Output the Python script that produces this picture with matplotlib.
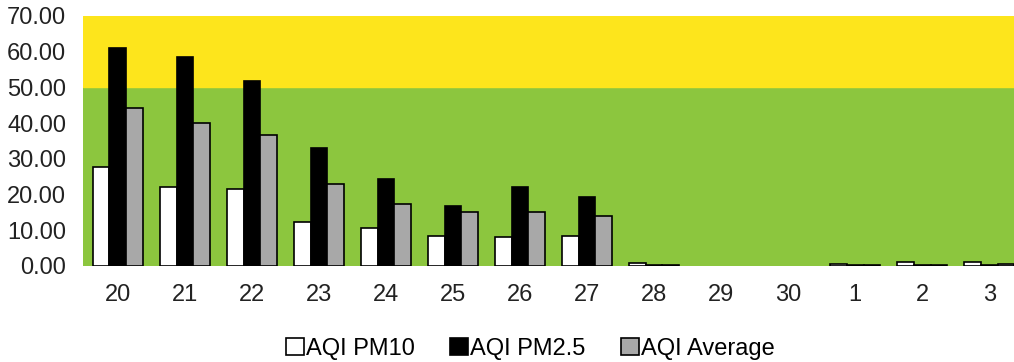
import matplotlib
matplotlib.use("Agg")
import matplotlib.pyplot as plt
import numpy as np

plt.rcParams['font.family'] = ['Liberation Sans', 'DejaVu Sans']

days = ['20', '21', '22', '23', '24', '25', '26', '27', '28', '29', '30', '1', '2', '3']
pm10 = [27.7, 22.1, 21.6, 12.3, 10.6, 8.4, 8.1, 8.4, 0.8, 0, 0, 0.7, 1.0, 1.0]
pm25 = [61.0, 58.5, 51.8, 33.0, 24.4, 16.8, 22.1, 19.3, 0.3, 0, 0, 0.2, 0.4, 0.4]
avg = [44.2, 40.0, 36.7, 23.0, 17.4, 15.1, 15.1, 14.0, 0.4, 0, 0, 0.3, 0.4, 0.5]

fig = plt.figure(figsize=(10.14, 3.62), dpi=100)
ax = fig.add_axes([83 / 1014, 1 - 266 / 362, 1 - 83 / 1014, 250 / 362])

# AQI bands
ax.axhspan(0, 50, color='#8cc63e', zorder=0)
ax.axhspan(50, 70, color='#fde51c', zorder=0)

x = np.arange(len(days))
w = 0.25
# days without data (value 0) get no bar at all
def masked(vals):
    return [v if v > 0 else np.nan for v in vals]

ax.bar(x - w, masked(pm10), w, color='white', edgecolor='black', linewidth=1.2, label='AQI PM10', zorder=2)
ax.bar(x, masked(pm25), w, color='black', edgecolor='black', linewidth=1.2, label='AQI PM2.5', zorder=2)
ax.bar(x + w, masked(avg), w, color='#a8a8a8', edgecolor='black', linewidth=1.2, label='AQI Average', zorder=2)

ax.set_xlim(-0.52, 13.37)
ax.set_ylim(0, 70)
ax.set_yticks(np.arange(0, 71, 10))
ax.set_yticklabels([f'{v:.2f}' for v in np.arange(0, 71, 10)], fontsize=17, color='#222222')
ax.set_xticks(x)
ax.set_xticklabels(days, fontsize=17, color='#222222')
ax.tick_params(length=0)
ax.tick_params(axis='y', pad=12)
ax.tick_params(axis='x', pad=13)
for s in ax.spines.values():
    s.set_visible(False)

fig.legend(loc='center', bbox_to_anchor=(0.523, 1 - 349 / 362), ncol=3, frameon=False,
           fontsize=17, handlelength=0.75, handleheight=0.75, handletextpad=0.1,
           columnspacing=1.5, borderaxespad=0)

fig.savefig('out.png', dpi=100, facecolor='white')
